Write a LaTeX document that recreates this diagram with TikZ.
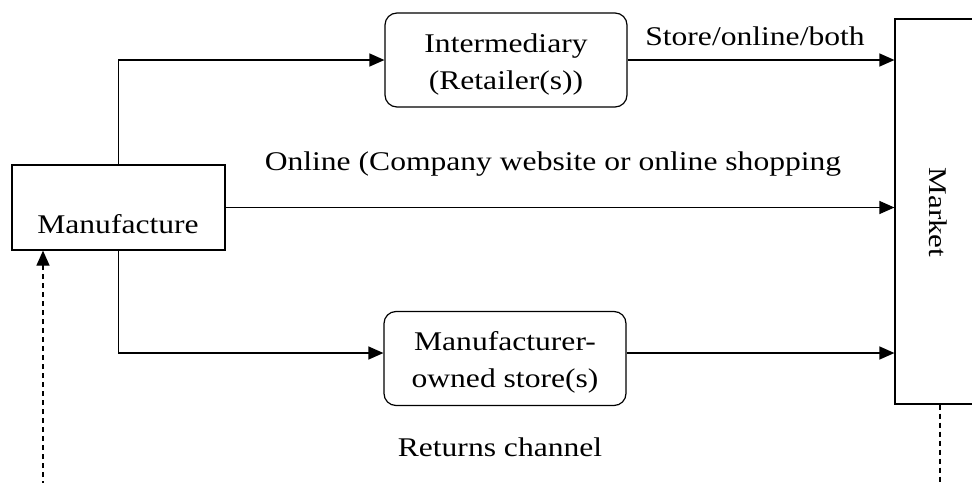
\documentclass[tikz,border=0pt]{standalone}
\usepackage{fontspec}
\setmainfont{Liberation Serif}[FakeStretch=1.17]
\newfontfamily\mktfont{Liberation Serif}[FakeStretch=1.22]
\usetikzlibrary{arrows.meta}
\begin{document}
\begin{tikzpicture}[x=1pt,y=-1pt,line width=1.2pt,
  box/.style={draw,rounded corners=12pt,minimum width=242pt,minimum height=94pt,inner sep=0pt},
  boxtext/.style={align=center,inner sep=0pt,font=\fontsize{27}{37}\selectfont},
  lbl/.style={inner sep=0pt,anchor=base,font=\fontsize{27}{37}\selectfont},
  flow/.style={-{Triangle[length=15pt,width=13pt]}},
  retline/.style={dash pattern=on 5pt off 4pt}]
\useasboundingbox (0,0) rectangle (972,482);
\clip (0,0) rectangle (972,482);

% boxes
\node[draw,minimum width=213pt,minimum height=85pt,inner sep=0pt] (man) at (118.5,207.5) {};
\node[lbl] (manlbl) at (118,233) {Manufacture};
\node[box] (int) at (506,60) {};
\node[boxtext] (inttext) at ([yshift=-5pt]int.center) {Intermediary\\(Retailer(s))};
\node[box] (own) at (505,358.5) {};
\node[boxtext] (owntext) at ([yshift=-4pt]own.center) {Manufacturer-\\owned store(s)};
\node[draw,minimum width=90pt,minimum height=385pt,inner sep=0pt] (mkt) at (940,211.5) {};
\node[rotate=-90,anchor=base,inner sep=0pt] (mktlbl) at (929,212.5) {\mktfont\fontsize{25.5}{28}\selectfont Market};

% channel labels
\node[lbl] (lstore) at (755,45) {Store/online/both};
\node[lbl] (lonline) at (553,170) {Online (Company website or online shopping};
\node[lbl] (lret) at (500,456) {Returns channel};

% forward channels
\draw[flow] (man.north) |- (int.west);
\draw[flow] (int.east) -- (int.east -| mkt.west);
\draw[flow] (man.east) -- (man.east -| mkt.west);
\draw[flow] (man.south) |- ([yshift=5.5pt]own.west);
\draw[flow] ([yshift=5.5pt]own.east) -- ([yshift=5.5pt]own.east -| mkt.west);

% returns channel
\coordinate (retL) at (43,486);
\coordinate (retR) at (940,486);
\draw[flow,retline] (retL) -- (retL |- man.south);
\draw[retline] (mkt.south) -- (retR);
\end{tikzpicture}
\end{document}
